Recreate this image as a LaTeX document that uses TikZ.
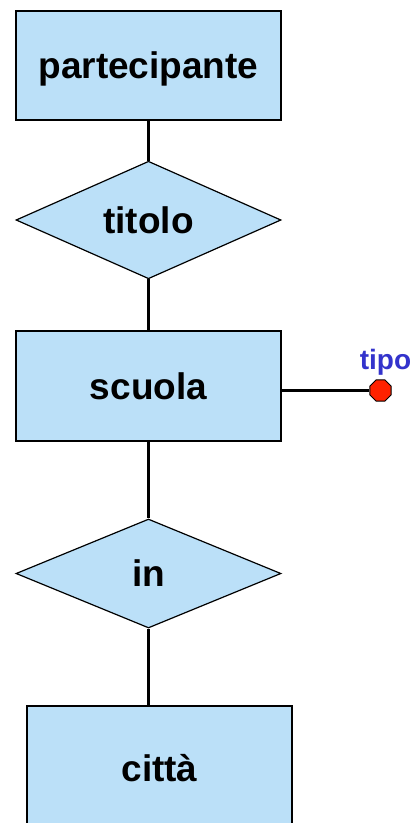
\documentclass[tikz,border=0pt]{standalone}
\usepackage{fontspec}
\setmainfont{Liberation Sans}
\usetikzlibrary{shapes.geometric}
\definecolor{boxfill}{RGB}{187,224,248}
\definecolor{attrblue}{RGB}{51,51,204}
\definecolor{attrred}{RGB}{255,34,0}
\tikzset{
  entity/.style={draw=black, line width=1.2pt, fill=boxfill, rectangle, minimum width=265pt, inner sep=0pt, text depth=0pt, font=\fontsize{37}{40}\selectfont\bfseries},
  relation/.style={draw=black, line width=1.2pt, fill=boxfill, diamond, minimum width=265pt, minimum height=110pt, inner sep=0pt, font=\fontsize{37}{40}\selectfont\bfseries},
  conn/.style={line width=3.2pt, draw=black},
  attrdot/.style={draw=black, line width=1pt, fill=attrred, regular polygon, regular polygon sides=8, minimum size=23pt, inner sep=0pt},
  attrlabel/.style={text=attrblue, font=\fontsize{28}{30}\selectfont\bfseries, inner sep=0pt}
}
\begin{document}
\begin{tikzpicture}[x=1pt,y=1pt]
\useasboundingbox (0,0) rectangle (413,-823);
\clip (0,0) rectangle (413,-823);
\fill[white] (0,0) rectangle (413,-823);
\node[entity, minimum height=109pt] (P) at (148.5,-65.5) {partecipante};
\node[relation, minimum height=110pt] (T) at (148.5,-220) {titolo};
\node[entity, minimum height=110pt] (S) at (148.5,-386) {scuola};
\node[relation, minimum height=109pt] (I) at (148.5,-573.5) {in};
\node[entity, minimum height=124pt] (C) at (159.5,-768) {città};
\draw[conn] (P.south) -- (T.north);
\draw[conn] (T.south) -- (S.north);
\draw[conn] (S.south) -- (I.north);
\draw[conn] (I.south) -- (I.south |- C.north);
\node[attrdot] (A) at (380.5,-390.5) {};
\draw[conn] (S.east |- A) -- (A.west);
\node[attrlabel] (tipo) at (385.5,-362) {tipo};
\end{tikzpicture}
\end{document}
